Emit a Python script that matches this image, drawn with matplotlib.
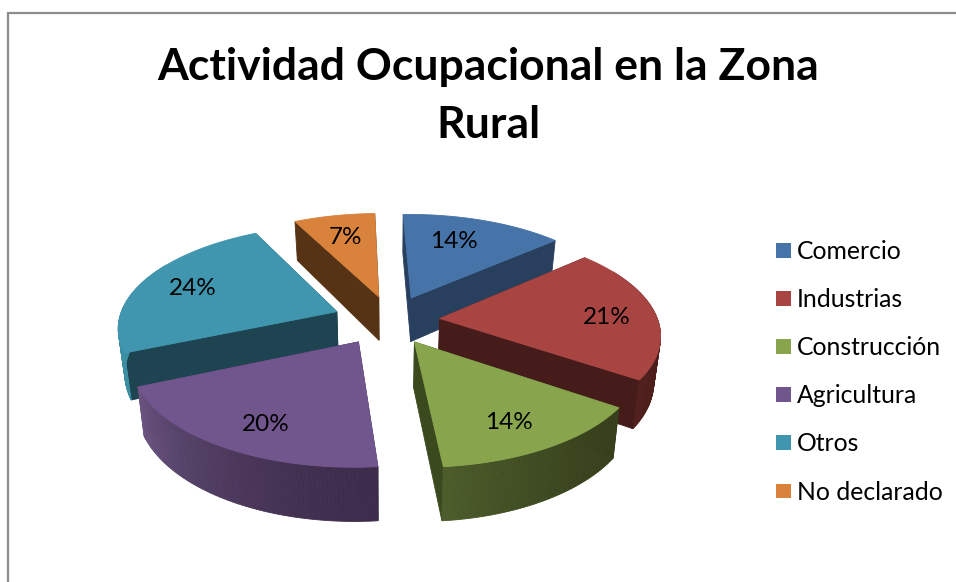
import numpy as np
import matplotlib
matplotlib.use("Agg")
import matplotlib.pyplot as plt
from matplotlib.patches import Patch
from matplotlib.colors import to_rgb

title = "Actividad Ocupacional en la Zona\nRural"
categories = ["Comercio", "Industrias", "Construcción", "Agricultura", "Otros", "No declarado"]
values = [14, 21, 14, 20, 24, 7]
top_colors = ["#4673A8", "#A84543", "#88A54E", "#71568E", "#4096AE", "#D9823C"]
cut_colors = ["#283F5E", "#461C1A", "#3A4A1E", "#3F2D50", "#1D4450", "#563315"]
wall_start = ["#2A4362", "#4A1D1B", "#36401C", "#3E2C4C", "#3C8EA3", "#5A3616"]
wall_end = ["#2A4362", "#4E1F1D", "#4C5C2A", "#6A5580", "#3C8EA3", "#5A3616"]
label_r = [0.68, 0.77, 0.77, 0.78, 0.74, 0.71]
label_turn = [-3, 2.3, 1.5, -2.5, -0.5, 0]
slice_dx = [4, 0, 0, 0, 0, 5]

plt.rcParams["font.family"] = ["Lato", "DejaVu Sans"]
W, H = 956, 582
fig = plt.figure(figsize=(W / 100, H / 100), dpi=100)
ax = fig.add_axes([0, 0, 1, 1])
ax.set_xlim(0, W)
ax.set_ylim(H, 0)
ax.axis("off")

CX, CY, A, B, P, E, D, SHRINK = 386.5, 320, 218, 101, 0.14, 0.245, 45, 0.975
ROT = np.radians(-1.7)


def proj(u, v, low=False, dx=0):
    u, v = np.asarray(u, float), np.asarray(v, float)
    s = 1 + P * v
    x = A * u / s
    y = CY - B * v / s
    if low:
        return CX + dx + x * SHRINK, y + D / s
    return CX + dx + x, y


def mix(c1, c2, t):
    a, b = np.array(to_rgb(c1)), np.array(to_rgb(c2))
    return tuple(a + (b - a) * t)


def quad(p1, p2, color, z):
    xs = [p1[0][0], p1[0][1], p2[0][1], p2[0][0]]
    ys = [p1[1][0], p1[1][1], p2[1][1], p2[1][0]]
    ax.fill(xs, ys, color=color, lw=0.6, zorder=z)


total = sum(values)
edges = np.concatenate([[0], np.cumsum(values)]) / total * 2 * np.pi + ROT
order = sorted(range(len(values)), key=lambda i: -np.cos((edges[i] + edges[i + 1]) / 2))

for rank, i in enumerate(order):
    t0, t1 = edges[i], edges[i + 1]
    mid = (t0 + t1) / 2
    ou, ov = E * np.sin(mid), E * np.cos(mid)
    th = np.linspace(t0, t1, 80)
    au, av = ou + np.sin(th), ov + np.cos(th)
    z = 2 + rank * 3
    dx = slice_dx[i]
    for tt in (t0, t1):
        uu = np.array([ou, ou + np.sin(tt)])
        vv = np.array([ov, ov + np.cos(tt)])
        quad(proj(uu, vv, dx=dx), proj(uu, vv, True, dx), cut_colors[i], z)
    for k in range(len(th) - 1):
        uu, vv = au[k:k + 2], av[k:k + 2]
        if np.cos(th[k]) > 0.5:
            continue
        quad(proj(uu, vv, dx=dx), proj(uu, vv, True, dx),
             mix(wall_start[i], wall_end[i], (k / (len(th) - 2)) ** 1.6), z + 1)
    x, y = proj(np.r_[ou, au], np.r_[ov, av], dx=dx)
    ax.fill(x, y, color=top_colors[i], lw=0.6, zorder=z + 2)

for i, v in enumerate(values):
    mid = (edges[i] + edges[i + 1]) / 2
    ang = mid + np.radians(label_turn[i])
    r = E + label_r[i]
    x, y = proj(r * np.sin(ang), r * np.cos(ang), dx=slice_dx[i])
    ax.text(float(x), float(y), f"{v}%", ha="center", va="center", fontsize=17.5,
            color="black", zorder=50)

ax.text(488, 96, title, ha="center", va="center", fontsize=32, fontweight="bold",
        linespacing=1.52, color="black")

handles = [Patch(facecolor=c, edgecolor="none") for c in top_colors]
ax.legend(handles, categories, loc="upper left", bbox_to_anchor=(776 / W, 1 - 240 / H),
          bbox_transform=fig.transFigure, frameon=False, fontsize=17.8, handlelength=0.607,
          handleheight=0.53, handletextpad=0.24, labelspacing=1.016, borderpad=0, borderaxespad=0)

ax.plot([8.5, 8.5, W], [H, 12.5, 12.5], color="#8C8C8C", lw=1.6, zorder=60, solid_joinstyle="miter")

fig.savefig("out.png", dpi=100, facecolor="white")
